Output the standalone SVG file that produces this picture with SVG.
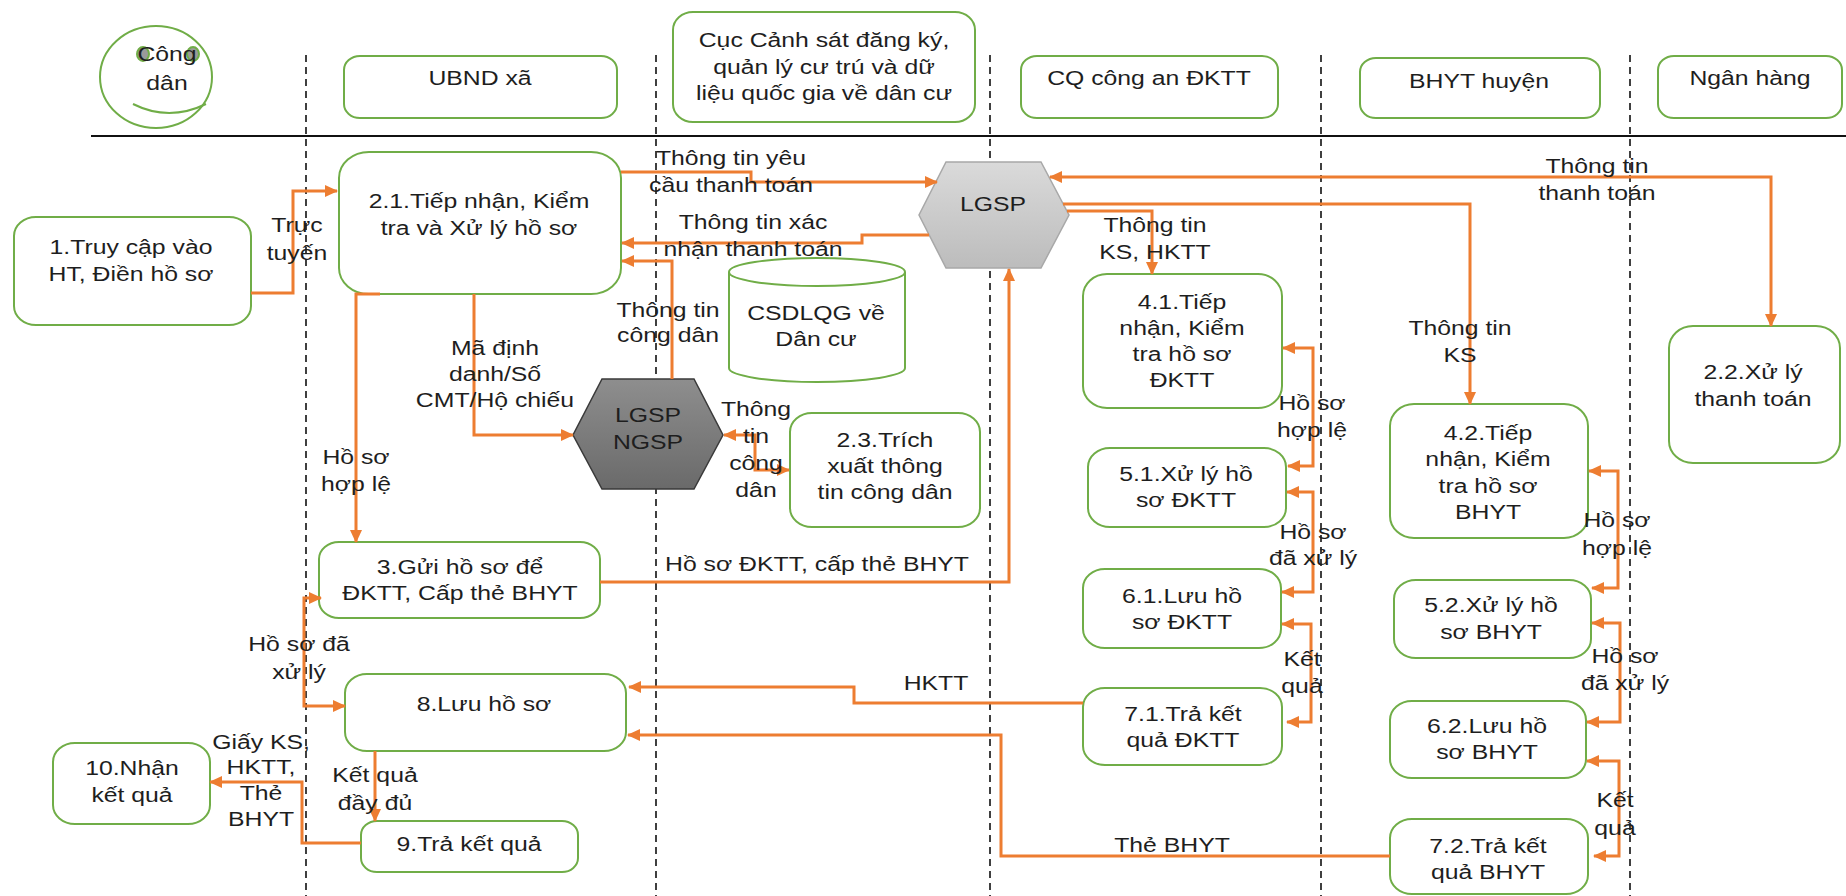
<svg xmlns="http://www.w3.org/2000/svg" width="1846" height="896" viewBox="0 0 1846 896">
<defs>
<style>
.bx{fill:#fff;stroke:#70ad47;stroke-width:2}
.t{font-family:"Liberation Sans",Arial,sans-serif;font-size:21px;fill:#1e1e1e;text-anchor:middle}
.c{fill:none;stroke:#ed7d31;stroke-width:3}
.dash{stroke:#111;stroke-width:1.6;stroke-dasharray:7 5}
</style>
<marker id="arr" viewBox="0 0 13 12" refX="12" refY="6" markerWidth="13" markerHeight="12" markerUnits="userSpaceOnUse" orient="auto-start-reverse">
<path d="M0,0 L13,6 L0,12 Z" fill="#ed7d31"/>
</marker>
<linearGradient id="g1" x1="0" y1="0" x2="0" y2="1">
<stop offset="0" stop-color="#dadada"/><stop offset="1" stop-color="#bcbcbc"/>
</linearGradient>
<linearGradient id="g2" x1="0" y1="0" x2="0" y2="1">
<stop offset="0" stop-color="#8e8e8e"/><stop offset="1" stop-color="#6a6a6a"/>
</linearGradient>
</defs>
<rect width="1846" height="896" fill="#fff"/>

<g id="lanes">
<line x1="91" y1="136" x2="1846" y2="136" stroke="#111" stroke-width="2"/>
<line class="dash" x1="306" y1="55" x2="306" y2="896"/>
<line class="dash" x1="656" y1="55" x2="656" y2="896"/>
<line class="dash" x1="990" y1="55" x2="990" y2="896"/>
<line class="dash" x1="1321" y1="55" x2="1321" y2="896"/>
<line class="dash" x1="1630" y1="55" x2="1630" y2="896"/>
</g>

<g id="h-congdan">
<ellipse cx="156" cy="77" rx="56" ry="51" fill="#fff" stroke="#70ad47" stroke-width="2"/>
<ellipse cx="143" cy="54" rx="6" ry="7" fill="#9a9a9a" stroke="#70ad47" stroke-width="2"/>
<ellipse cx="193" cy="54" rx="6" ry="7" fill="#9a9a9a" stroke="#70ad47" stroke-width="2"/>
<path d="M133,104 Q169,122 206,104" fill="none" stroke="#70ad47" stroke-width="2"/>
<text class="t" transform="translate(167,61) scale(1.18,1)"><tspan x="0">Công</tspan><tspan x="0" dy="29">dân</tspan></text>
</g>
<g id="h-ubnd">
<rect class="bx" x="344" y="56" width="273" height="62" rx="16" ry="14"/>
<text class="t" transform="translate(480,85) scale(1.18,1)">UBND xã</text>
</g>
<g id="h-cuc">
<rect class="bx" x="673" y="12" width="302" height="110" rx="20" ry="18"/>
<text class="t" transform="translate(824,47) scale(1.18,1)"><tspan x="0">Cục Cảnh sát đăng ký,</tspan><tspan x="0" dy="27">quản lý cư trú và dữ</tspan><tspan x="0" dy="26">liệu quốc gia về dân cư</tspan></text>
</g>
<g id="h-cqca">
<rect class="bx" x="1021" y="56" width="257" height="62" rx="16" ry="14"/>
<text class="t" transform="translate(1149,85) scale(1.18,1)">CQ công an ĐKTT</text>
</g>
<g id="h-bhyt">
<rect class="bx" x="1360" y="58" width="240" height="60" rx="16" ry="14"/>
<text class="t" transform="translate(1479,88) scale(1.18,1)">BHYT huyện</text>
</g>
<g id="h-nganhang">
<rect class="bx" x="1658" y="56" width="184" height="62" rx="16" ry="14"/>
<text class="t" transform="translate(1750,85) scale(1.18,1)">Ngân hàng</text>
</g>

<g id="n1">
<rect class="bx" x="14" y="217" width="237" height="108" rx="22" ry="19"/>
<text class="t" transform="translate(131,254) scale(1.18,1)"><tspan x="0">1.Truy cập vào</tspan><tspan x="0" dy="27">HT, Điền hồ sơ</tspan></text>
</g>
<g id="n21">
<rect class="bx" x="339" y="152" width="282" height="142" rx="30" ry="26"/>
<text class="t" transform="translate(479,208) scale(1.18,1)"><tspan x="0">2.1.Tiếp nhận, Kiểm</tspan><tspan x="0" dy="27">tra và Xử lý hồ sơ</tspan></text>
</g>
<g id="n22">
<rect class="bx" x="1669" y="326" width="171" height="137" rx="24" ry="22"/>
<text class="t" transform="translate(1753,379) scale(1.18,1)"><tspan x="0">2.2.Xử lý</tspan><tspan x="0" dy="27">thanh toán</tspan></text>
</g>
<g id="n23">
<rect class="bx" x="790" y="413" width="190" height="114" rx="22" ry="19"/>
<text class="t" transform="translate(885,447) scale(1.18,1)"><tspan x="0">2.3.Trích</tspan><tspan x="0" dy="26">xuất thông</tspan><tspan x="0" dy="26">tin công dân</tspan></text>
</g>
<g id="csdlqg">
<path d="M729,272 V368 A88,14 0 0 0 905,368 V272" fill="#fff" stroke="#70ad47" stroke-width="2"/>
<ellipse cx="817" cy="272" rx="88" ry="14" fill="#fff" stroke="#70ad47" stroke-width="2"/>
<text class="t" transform="translate(816,320) scale(1.18,1)"><tspan x="0">CSDLQG về</tspan><tspan x="0" dy="26">Dân cư</tspan></text>
</g>
<g id="lgsp">
<polygon points="946,162 1041,162 1069,215 1041,268 946,268 919,215" fill="url(#g1)" stroke="#a8a8a8" stroke-width="1.5"/>
<text class="t" transform="translate(993,211) scale(1.18,1)">LGSP</text>
</g>
<g id="lgsp-ngsp">
<polygon points="602,379 694,379 723,435 694,489 602,489 573,435" fill="url(#g2)" stroke="#3a3a3a" stroke-width="1.5"/>
<text class="t" transform="translate(648,422) scale(1.18,1)"><tspan x="0">LGSP</tspan><tspan x="0" dy="27">NGSP</tspan></text>
</g>
<g id="n3">
<rect class="bx" x="319" y="542" width="281" height="76" rx="20" ry="17"/>
<text class="t" transform="translate(460,574) scale(1.18,1)"><tspan x="0">3.Gửi hồ sơ để</tspan><tspan x="0" dy="26">ĐKTT, Cấp thẻ BHYT</tspan></text>
</g>
<g id="n41">
<rect class="bx" x="1083" y="274" width="199" height="134" rx="24" ry="22"/>
<text class="t" transform="translate(1182,309) scale(1.18,1)"><tspan x="0">4.1.Tiếp</tspan><tspan x="0" dy="26">nhận, Kiểm</tspan><tspan x="0" dy="26">tra hồ sơ</tspan><tspan x="0" dy="26">ĐKTT</tspan></text>
</g>
<g id="n51">
<rect class="bx" x="1088" y="448" width="198" height="79" rx="22" ry="19"/>
<text class="t" transform="translate(1186,481) scale(1.18,1)"><tspan x="0">5.1.Xử lý hồ</tspan><tspan x="0" dy="26">sơ ĐKTT</tspan></text>
</g>
<g id="n61">
<rect class="bx" x="1083" y="569" width="198" height="79" rx="22" ry="19"/>
<text class="t" transform="translate(1182,603) scale(1.18,1)"><tspan x="0">6.1.Lưu hồ</tspan><tspan x="0" dy="26">sơ ĐKTT</tspan></text>
</g>
<g id="n71">
<rect class="bx" x="1083" y="688" width="199" height="77" rx="22" ry="19"/>
<text class="t" transform="translate(1183,721) scale(1.18,1)"><tspan x="0">7.1.Trả kết</tspan><tspan x="0" dy="26">quả ĐKTT</tspan></text>
</g>
<g id="n42">
<rect class="bx" x="1390" y="404" width="198" height="134" rx="24" ry="22"/>
<text class="t" transform="translate(1488,440) scale(1.18,1)"><tspan x="0">4.2.Tiếp</tspan><tspan x="0" dy="26">nhận, Kiểm</tspan><tspan x="0" dy="27">tra hồ sơ</tspan><tspan x="0" dy="26">BHYT</tspan></text>
</g>
<g id="n52">
<rect class="bx" x="1394" y="580" width="197" height="78" rx="22" ry="19"/>
<text class="t" transform="translate(1491,612) scale(1.18,1)"><tspan x="0">5.2.Xử lý hồ</tspan><tspan x="0" dy="27">sơ BHYT</tspan></text>
</g>
<g id="n62">
<rect class="bx" x="1390" y="701" width="196" height="77" rx="22" ry="19"/>
<text class="t" transform="translate(1487,733) scale(1.18,1)"><tspan x="0">6.2.Lưu hồ</tspan><tspan x="0" dy="26">sơ BHYT</tspan></text>
</g>
<g id="n72">
<rect class="bx" x="1390" y="819" width="198" height="75" rx="22" ry="19"/>
<text class="t" transform="translate(1488,853) scale(1.18,1)"><tspan x="0">7.2.Trả kết</tspan><tspan x="0" dy="26">quả BHYT</tspan></text>
</g>
<g id="n8">
<rect class="bx" x="345" y="674" width="281" height="77" rx="22" ry="19"/>
<text class="t" transform="translate(484,711) scale(1.18,1)">8.Lưu hồ sơ</text>
</g>
<g id="n9">
<rect class="bx" x="361" y="821" width="217" height="51" rx="16" ry="14"/>
<text class="t" transform="translate(469,851) scale(1.18,1)">9.Trả kết quả</text>
</g>
<g id="n10">
<rect class="bx" x="53" y="743" width="157" height="81" rx="22" ry="19"/>
<text class="t" transform="translate(132,775) scale(1.18,1)"><tspan x="0">10.Nhận</tspan><tspan x="0" dy="27">kết quả</tspan></text>
</g>

<g id="connectors">
<path class="c" d="M251,293 H293 V191 H337" marker-end="url(#arr)"/>
<path class="c" d="M621,172 H751 V182 H937" marker-end="url(#arr)"/>
<path class="c" d="M929,235 H862 V243 H622" marker-end="url(#arr)"/>
<path class="c" d="M672,379 V261 H622" marker-end="url(#arr)"/>
<path class="c" d="M474,294 V435 H573" marker-end="url(#arr)"/>
<path class="c" d="M380,294 H356 V542" marker-end="url(#arr)"/>
<path class="c" d="M789,470 H755 V435 H724" marker-start="url(#arr)" marker-end="url(#arr)"/>
<path class="c" d="M600,582 H1009 V269" marker-end="url(#arr)"/>
<path class="c" d="M1050,177 H1771 V326" marker-start="url(#arr)" marker-end="url(#arr)"/>
<path class="c" d="M1063,204 H1470 V404" marker-end="url(#arr)"/>
<path class="c" d="M1067,211 H1152 V274" marker-end="url(#arr)"/>
<path class="c" d="M1288,466 H1313 V348 H1283" marker-start="url(#arr)" marker-end="url(#arr)"/>
<path class="c" d="M1287,492 H1313 V592 H1282" marker-start="url(#arr)" marker-end="url(#arr)"/>
<path class="c" d="M1282,624 H1311 V722 H1287" marker-start="url(#arr)" marker-end="url(#arr)"/>
<path class="c" d="M1589,471 H1618 V588 H1592" marker-start="url(#arr)" marker-end="url(#arr)"/>
<path class="c" d="M1592,623 H1620 V722 H1587" marker-start="url(#arr)" marker-end="url(#arr)"/>
<path class="c" d="M1587,761 H1619 V856 H1594" marker-start="url(#arr)" marker-end="url(#arr)"/>
<path class="c" d="M1083,703 H854 V687 H629" marker-end="url(#arr)"/>
<path class="c" d="M1390,856 H1001 V735 H628" marker-end="url(#arr)"/>
<path class="c" d="M321,598 H304 V706 H345" marker-start="url(#arr)" marker-end="url(#arr)"/>
<path class="c" d="M375,751 V821" marker-end="url(#arr)"/>
<path class="c" d="M361,843 H302 V782 H210" marker-end="url(#arr)"/>

<text class="t" transform="translate(297,232) scale(1.18,1)"><tspan x="0">Trực</tspan><tspan x="0" dy="28">tuyến</tspan></text>
<text class="t" transform="translate(731,165) scale(1.18,1)"><tspan x="0">Thông tin yêu</tspan><tspan x="0" dy="27">cầu thanh toán</tspan></text>
<text class="t" transform="translate(753,229) scale(1.18,1)"><tspan x="0">Thông tin xác</tspan><tspan x="0" dy="27">nhận thanh toán</tspan></text>
<text class="t" transform="translate(668,317) scale(1.18,1)"><tspan x="0">Thông tin</tspan><tspan x="0" dy="25">công dân</tspan></text>
<text class="t" transform="translate(495,355) scale(1.18,1)"><tspan x="0">Mã định</tspan><tspan x="0" dy="26">danh/Số</tspan><tspan x="0" dy="26">CMT/Hộ chiếu</tspan></text>
<text class="t" transform="translate(356,464) scale(1.18,1)"><tspan x="0">Hồ sơ</tspan><tspan x="0" dy="27">hợp lệ</tspan></text>
<text class="t" transform="translate(756,416) scale(1.18,1)"><tspan x="0">Thông</tspan><tspan x="0" dy="27">tin</tspan><tspan x="0" dy="27">công</tspan><tspan x="0" dy="27">dân</tspan></text>
<text class="t" transform="translate(817,571) scale(1.18,1)">Hồ sơ ĐKTT, cấp thẻ BHYT</text>
<text class="t" transform="translate(1597,173) scale(1.18,1)"><tspan x="0">Thông tin</tspan><tspan x="0" dy="27">thanh toán</tspan></text>
<text class="t" transform="translate(1460,335) scale(1.18,1)"><tspan x="0">Thông tin</tspan><tspan x="0" dy="27">KS</tspan></text>
<text class="t" transform="translate(1155,232) scale(1.18,1)"><tspan x="0">Thông tin</tspan><tspan x="0" dy="27">KS, HKTT</tspan></text>
<text class="t" transform="translate(1312,410) scale(1.18,1)"><tspan x="0">Hồ sơ</tspan><tspan x="0" dy="27">hợp lệ</tspan></text>
<text class="t" transform="translate(1313,539) scale(1.18,1)"><tspan x="0">Hồ sơ</tspan><tspan x="0" dy="26">đã xử lý</tspan></text>
<text class="t" transform="translate(1302,666) scale(1.18,1)"><tspan x="0">Kết</tspan><tspan x="0" dy="27">quả</tspan></text>
<text class="t" transform="translate(936,690) scale(1.18,1)">HKTT</text>
<text class="t" transform="translate(1172,852) scale(1.18,1)">Thẻ BHYT</text>
<text class="t" transform="translate(1617,527) scale(1.18,1)"><tspan x="0">Hồ sơ</tspan><tspan x="0" dy="28">hợp lệ</tspan></text>
<text class="t" transform="translate(1625,663) scale(1.18,1)"><tspan x="0">Hồ sơ</tspan><tspan x="0" dy="27">đã xử lý</tspan></text>
<text class="t" transform="translate(1615,807) scale(1.18,1)"><tspan x="0">Kết</tspan><tspan x="0" dy="28">quả</tspan></text>
<text class="t" transform="translate(299,651) scale(1.18,1)"><tspan x="0">Hồ sơ đã</tspan><tspan x="0" dy="28">xử lý</tspan></text>
<text class="t" transform="translate(375,782) scale(1.18,1)"><tspan x="0">Kết quả</tspan><tspan x="0" dy="28">đầy đủ</tspan></text>
<text class="t" transform="translate(261,749) scale(1.18,1)"><tspan x="0">Giấy KS,</tspan><tspan x="0" dy="25">HKTT,</tspan><tspan x="0" dy="26">Thẻ</tspan><tspan x="0" dy="26">BHYT</tspan></text>
</g>
</svg>
